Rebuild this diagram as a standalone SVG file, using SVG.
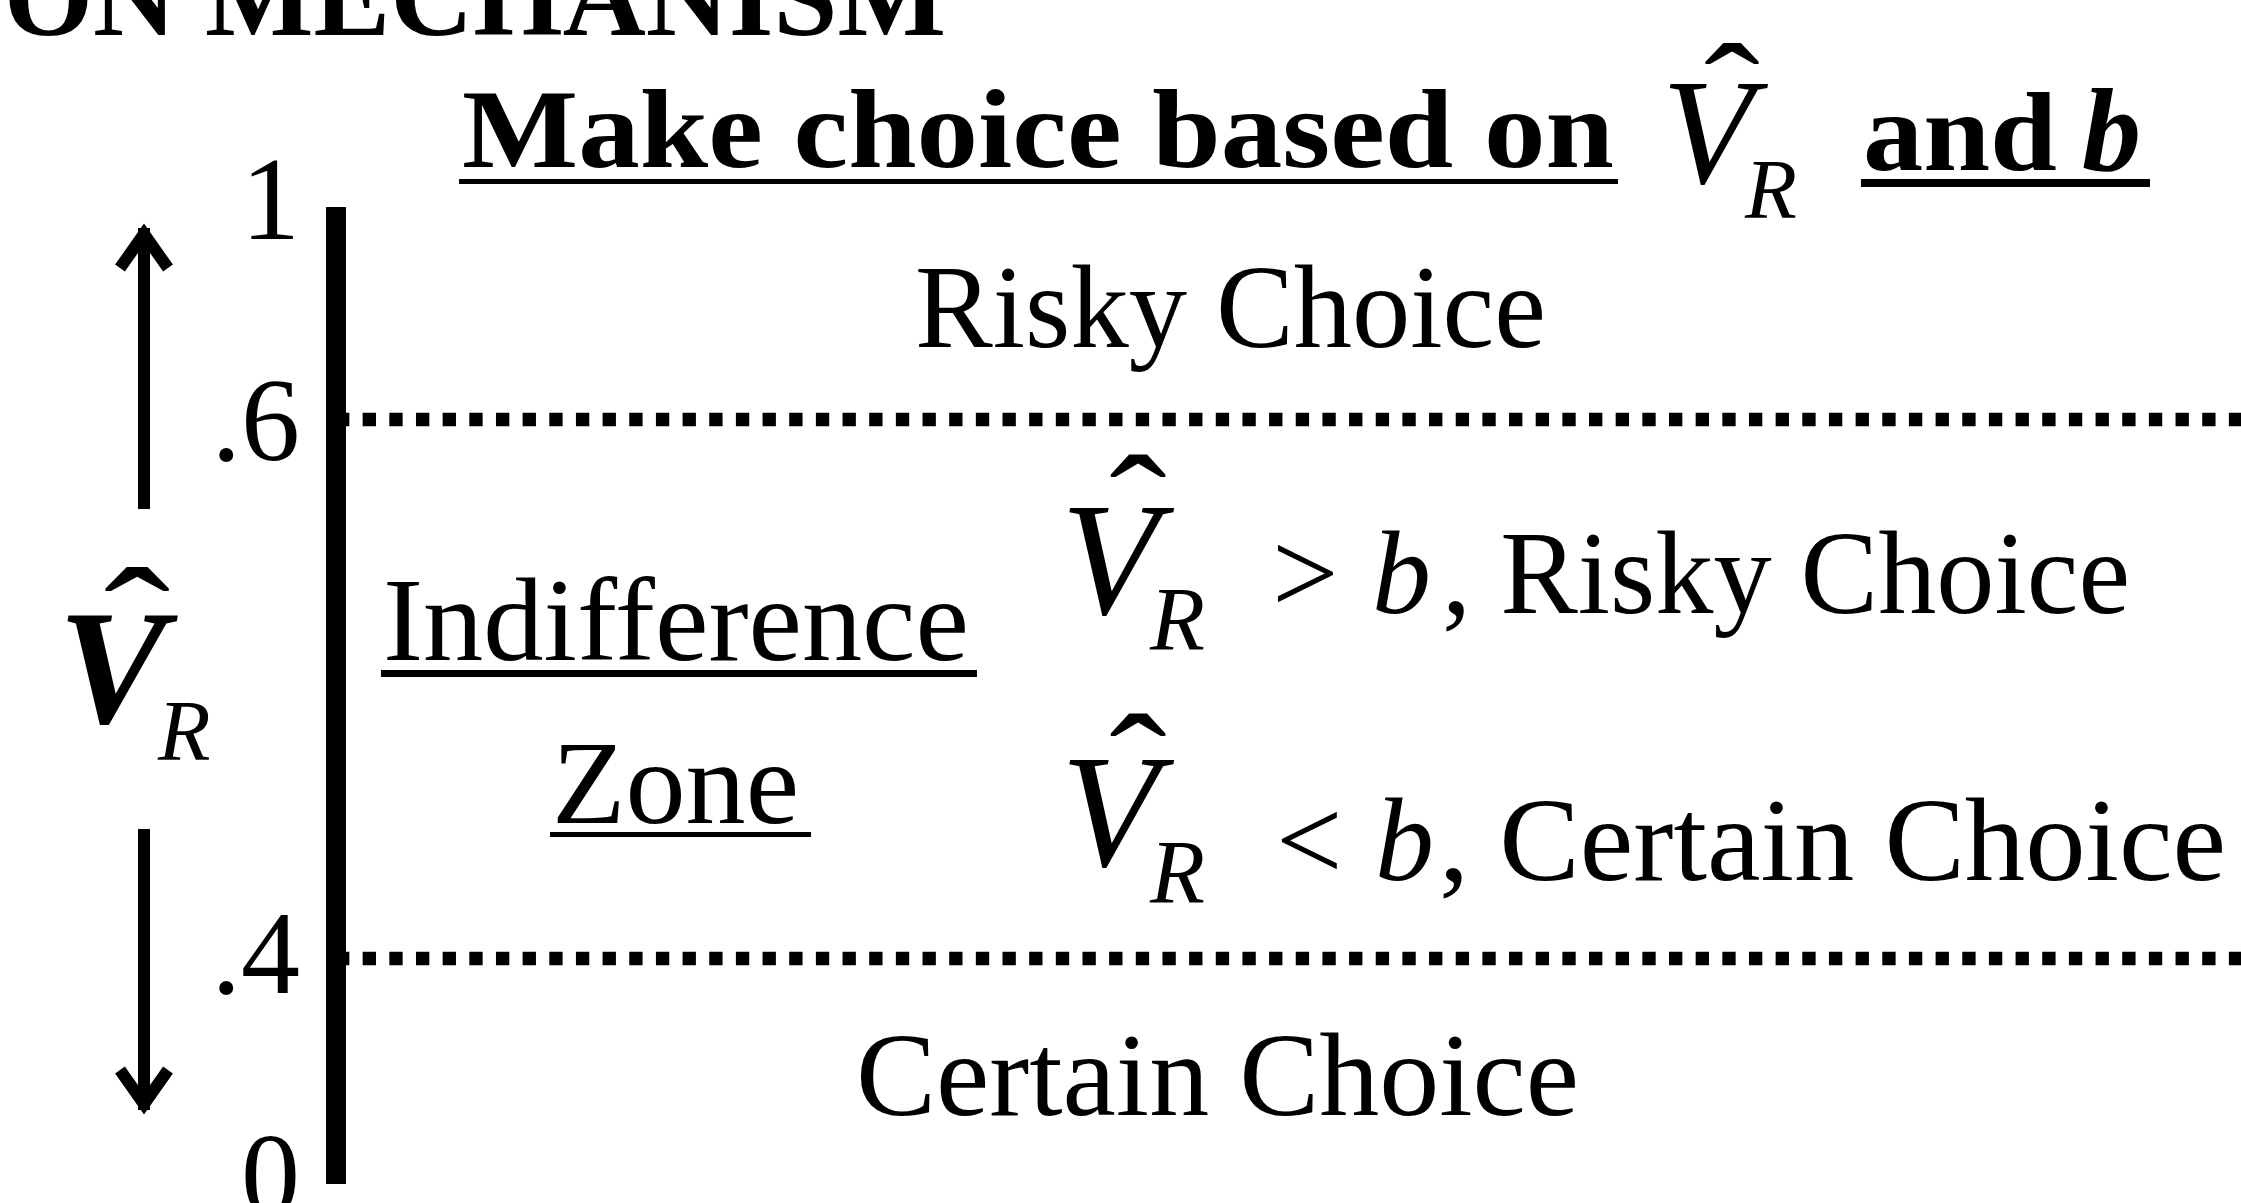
<svg xmlns="http://www.w3.org/2000/svg" width="2241" height="1203" viewBox="0 0 2241 1203">
<style>
text{font-family:"Liberation Serif","Times New Roman",serif;fill:#000}
.b{font-weight:bold}
.i{font-style:italic}
.t{font-size:118px}
.dot{stroke:#000;stroke-width:13.3;stroke-dasharray:13.33 13.33;fill:none}
.arr{stroke:#000;stroke-width:12;fill:none;stroke-linejoin:miter;stroke-miterlimit:10}
</style>
<rect width="2241" height="1203" fill="#fff"/>
<g id="title">
<text class="b" x="946" y="35" font-size="115" text-anchor="end">ION MECHANISM</text>
</g>
<g id="heading">
<text class="b" x="462" y="167" font-size="112" textLength="1152" lengthAdjust="spacingAndGlyphs">Make choice based on</text>
<rect x="459" y="179" width="1159" height="5"/>
<text class="i" x="1662" y="183" font-size="150">V</text>
<text transform="translate(1732 141) scale(1.2 1)" font-size="140" text-anchor="middle">ˆ</text>
<text class="i" x="1745" y="218" font-size="85">R</text>
<text class="b" x="1863" y="170" font-size="112" textLength="194" lengthAdjust="spacingAndGlyphs">and</text>
<text class="b i" x="2082" y="170" font-size="118">b</text>
<rect x="1861" y="179" width="289" height="8"/>
</g>
<g id="axis">
<rect x="326" y="207" width="20" height="977"/>
<text class="t" x="300" y="239" text-anchor="end">1</text>
<text class="t" x="300" y="460" text-anchor="end">.6</text>
<text class="t" x="300" y="993" text-anchor="end">.4</text>
<text class="t" x="300" y="1215" text-anchor="end">0</text>
</g>
<g id="axis-label">
<text class="b i" x="58" y="723" font-size="163">V</text>
<text transform="translate(137 679) scale(1.25 1)" font-size="160" text-anchor="middle">ˆ</text>
<text class="i" x="158" y="760" font-size="86">R</text>
</g>
<g id="connectors">
<line class="dot" x1="336" y1="419.5" x2="2241" y2="419.5"/>
<line class="dot" x1="336" y1="958.5" x2="2241" y2="958.5"/>
<path class="arr" d="M144 509 V228 M120 268 L144 234 L168 268"/>
<path class="arr" d="M144 829 V1110 M120 1070 L144 1104 L168 1070"/>
</g>
<g id="risky">
<text class="t" x="915" y="347" textLength="631" lengthAdjust="spacingAndGlyphs">Risky Choice</text>
</g>
<g id="zone">
<text class="t" x="383" y="660" textLength="586" lengthAdjust="spacingAndGlyphs">Indifference</text>
<rect x="381" y="670" width="596" height="7"/>
<text class="t" x="552" y="823" textLength="247" lengthAdjust="spacingAndGlyphs">Zone</text>
<rect x="550" y="832" width="261" height="5"/>
</g>
<g id="rule-risky">
<text class="i" x="1061" y="614" font-size="160">V</text>
<text transform="translate(1138 559) scale(1.15 1)" font-size="150" text-anchor="middle">ˆ</text>
<text class="i" x="1150" y="650" font-size="90">R</text>
<text class="t" x="1272" y="613">&gt;</text>
<text class="t i" x="1372" y="613">b</text>
<text class="t" x="1442" y="613" textLength="688" lengthAdjust="spacingAndGlyphs">, Risky Choice</text>
</g>
<g id="rule-certain">
<text class="i" x="1061" y="866" font-size="160">V</text>
<text transform="translate(1138 818) scale(1.15 1)" font-size="150" text-anchor="middle">ˆ</text>
<text class="i" x="1150" y="903" font-size="90">R</text>
<text class="t" x="1276" y="880">&lt;</text>
<text class="t i" x="1375" y="880">b</text>
<text class="t" x="1439" y="880" textLength="787" lengthAdjust="spacingAndGlyphs">, Certain Choice</text>
</g>
<g id="certain">
<text class="t" x="856" y="1115" textLength="723" lengthAdjust="spacingAndGlyphs">Certain Choice</text>
</g>
</svg>
